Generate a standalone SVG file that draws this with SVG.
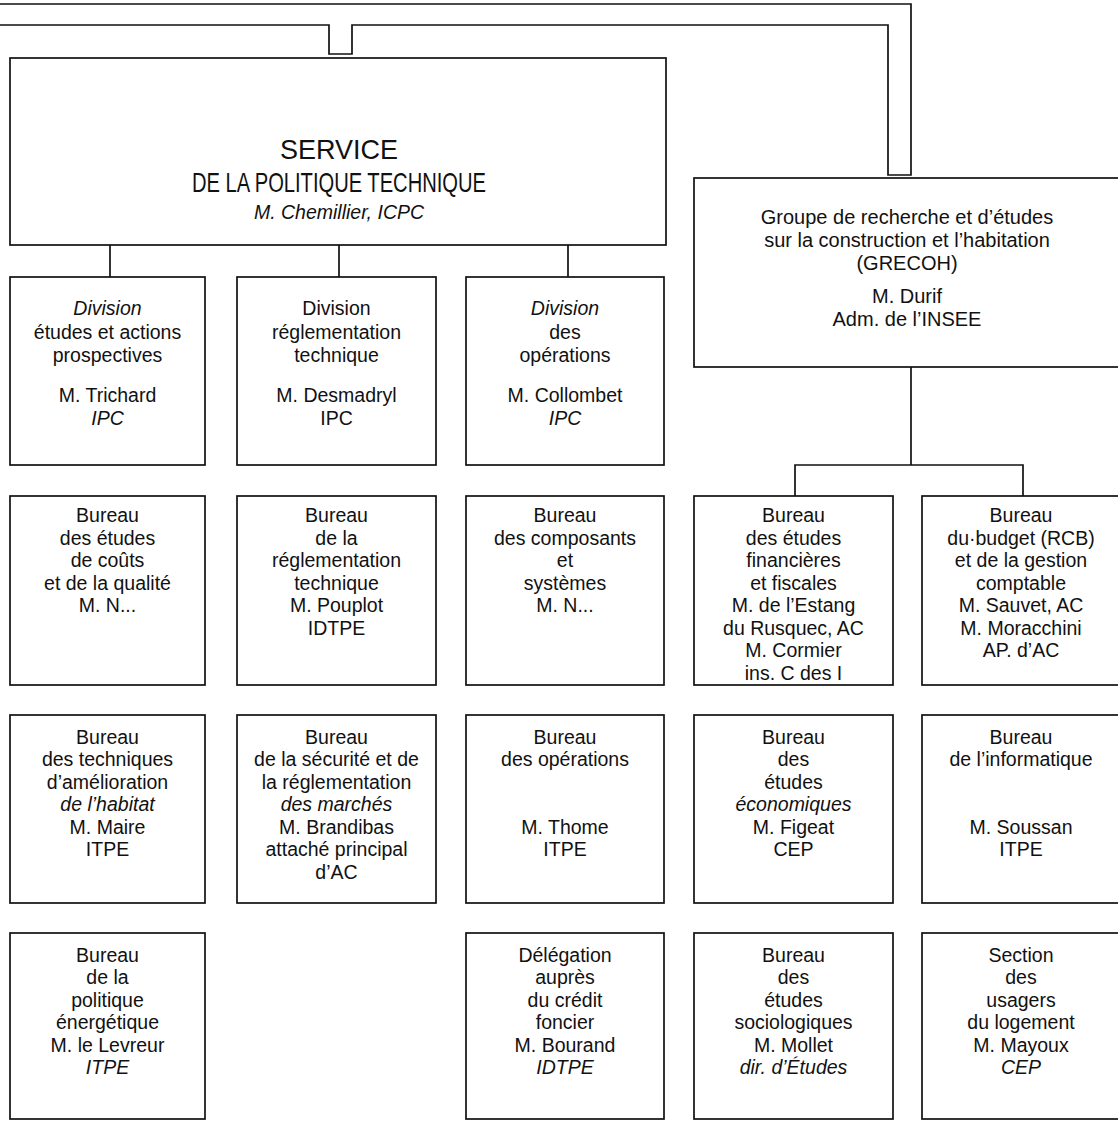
<svg xmlns="http://www.w3.org/2000/svg" width="1118" height="1122" viewBox="0 0 1118 1122">
<style>
.box{fill:#fff;stroke:#111;stroke-width:1.7}
.ln{fill:none;stroke:#111;stroke-width:1.7}
text{font-family:"Liberation Sans",Arial,sans-serif;font-size:19.5px;fill:#111;text-anchor:middle}
.it{font-style:italic}
.title{font-size:28px}
.gr{font-size:20px}
</style>
<rect width="1118" height="1122" fill="#fff"/>
<g id="connectors">
<path class="ln" d="M-5 4 H911 V175 H888 V25 H352 V54 H329 V25 H-5"/>
<path class="ln" d="M110 245 V277 M339 245 V277 M568 245 V277"/>
<path class="ln" d="M911 367 V465 M795 496 V465 H1023 V496"/>
</g>
<g id="service">
<rect class="box" x="10" y="58" width="656" height="187"/>
<text class="title" x="339" y="159" textLength="118" lengthAdjust="spacingAndGlyphs">SERVICE</text>
<text class="title" x="339" y="192" textLength="294" lengthAdjust="spacingAndGlyphs">DE LA POLITIQUE TECHNIQUE</text>
<text class="it" x="339" y="219">M. Chemillier, ICPC</text>
</g>
<g id="grecoh">
<rect class="box" x="694" y="178" width="440" height="189"/>
<text class="gr" x="907" y="224">Groupe de recherche et d’études</text>
<text class="gr" x="907" y="247">sur la construction et l’habitation</text>
<text class="gr" x="907" y="270">(GRECOH)</text>
<text class="gr" x="907" y="303">M. Durif</text>
<text class="gr" x="907" y="326">Adm. de l’INSEE</text>
</g>
<g id="div-etudes">
<rect class="box" x="10" y="277" width="195" height="188"/>
<text class="it" x="107.5" y="315">Division</text>
<text x="107.5" y="339">études et actions</text>
<text x="107.5" y="362">prospectives</text>
<text x="107.5" y="402">M. Trichard</text>
<text class="it" x="107.5" y="425">IPC</text>
</g>
<g id="div-reglementation">
<rect class="box" x="237" y="277" width="199" height="188"/>
<text x="336.5" y="315">Division</text>
<text x="336.5" y="339">réglementation</text>
<text x="336.5" y="362">technique</text>
<text x="336.5" y="402">M. Desmadryl</text>
<text x="336.5" y="425">IPC</text>
</g>
<g id="div-operations">
<rect class="box" x="466" y="277" width="198" height="188"/>
<text class="it" x="565" y="315">Division</text>
<text x="565" y="339">des</text>
<text x="565" y="362">opérations</text>
<text x="565" y="402">M. Collombet</text>
<text class="it" x="565" y="425">IPC</text>
</g>
<g id="b-couts">
<rect class="box" x="10" y="496" width="195" height="189"/>
<text x="107.5" y="522">Bureau</text>
<text x="107.5" y="545">des études</text>
<text x="107.5" y="567">de coûts</text>
<text x="107.5" y="590">et de la qualité</text>
<text x="107.5" y="612">M. N...</text>
</g>
<g id="b-reglementation">
<rect class="box" x="237" y="496" width="199" height="189"/>
<text x="336.5" y="522">Bureau</text>
<text x="336.5" y="545">de la</text>
<text x="336.5" y="567">réglementation</text>
<text x="336.5" y="590">technique</text>
<text x="336.5" y="612">M. Pouplot</text>
<text x="336.5" y="635">IDTPE</text>
</g>
<g id="b-composants">
<rect class="box" x="466" y="496" width="198" height="189"/>
<text x="565" y="522">Bureau</text>
<text x="565" y="545">des composants</text>
<text x="565" y="567">et</text>
<text x="565" y="590">systèmes</text>
<text x="565" y="612">M. N...</text>
</g>
<g id="b-financieres">
<rect class="box" x="694" y="496" width="199" height="189"/>
<text x="793.5" y="522">Bureau</text>
<text x="793.5" y="545">des études</text>
<text x="793.5" y="567">financières</text>
<text x="793.5" y="590">et fiscales</text>
<text x="793.5" y="612">M. de l’Estang</text>
<text x="793.5" y="635">du Rusquec, AC</text>
<text x="793.5" y="657">M. Cormier</text>
<text x="793.5" y="680">ins. C des I</text>
</g>
<g id="b-budget">
<rect class="box" x="922" y="496" width="210" height="189"/>
<text x="1021" y="522">Bureau</text>
<text x="1021" y="545">du·budget (RCB)</text>
<text x="1021" y="567">et de la gestion</text>
<text x="1021" y="590">comptable</text>
<text x="1021" y="612">M. Sauvet, AC</text>
<text x="1021" y="635">M. Moracchini</text>
<text x="1021" y="657">AP. d’AC</text>
</g>
<g id="b-amelioration">
<rect class="box" x="10" y="715" width="195" height="188"/>
<text x="107.5" y="744">Bureau</text>
<text x="107.5" y="766">des techniques</text>
<text x="107.5" y="789">d’amélioration</text>
<text class="it" x="107.5" y="811">de l’habitat</text>
<text x="107.5" y="834">M. Maire</text>
<text x="107.5" y="856">ITPE</text>
</g>
<g id="b-securite">
<rect class="box" x="237" y="715" width="199" height="188"/>
<text x="336.5" y="744">Bureau</text>
<text x="336.5" y="766">de la sécurité et de</text>
<text x="336.5" y="789">la réglementation</text>
<text class="it" x="336.5" y="811">des marchés</text>
<text x="336.5" y="834">M. Brandibas</text>
<text x="336.5" y="856">attaché principal</text>
<text x="336.5" y="879">d’AC</text>
</g>
<g id="b-operations">
<rect class="box" x="466" y="715" width="198" height="188"/>
<text x="565" y="744">Bureau</text>
<text x="565" y="766">des opérations</text>
<text x="565" y="834">M. Thome</text>
<text x="565" y="856">ITPE</text>
</g>
<g id="b-economiques">
<rect class="box" x="694" y="715" width="199" height="188"/>
<text x="793.5" y="744">Bureau</text>
<text x="793.5" y="766">des</text>
<text x="793.5" y="789">études</text>
<text class="it" x="793.5" y="811">économiques</text>
<text x="793.5" y="834">M. Figeat</text>
<text x="793.5" y="856">CEP</text>
</g>
<g id="b-informatique">
<rect class="box" x="922" y="715" width="210" height="188"/>
<text x="1021" y="744">Bureau</text>
<text x="1021" y="766">de l’informatique</text>
<text x="1021" y="834">M. Soussan</text>
<text x="1021" y="856">ITPE</text>
</g>
<g id="b-energetique">
<rect class="box" x="10" y="933" width="195" height="186"/>
<text x="107.5" y="962">Bureau</text>
<text x="107.5" y="984">de la</text>
<text x="107.5" y="1007">politique</text>
<text x="107.5" y="1029">énergétique</text>
<text x="107.5" y="1052">M. le Levreur</text>
<text class="it" x="107.5" y="1074">ITPE</text>
</g>
<g id="delegation">
<rect class="box" x="466" y="933" width="198" height="186"/>
<text x="565" y="962">Délégation</text>
<text x="565" y="984">auprès</text>
<text x="565" y="1007">du crédit</text>
<text x="565" y="1029">foncier</text>
<text x="565" y="1052">M. Bourand</text>
<text class="it" x="565" y="1074">IDTPE</text>
</g>
<g id="b-sociologiques">
<rect class="box" x="694" y="933" width="199" height="186"/>
<text x="793.5" y="962">Bureau</text>
<text x="793.5" y="984">des</text>
<text x="793.5" y="1007">études</text>
<text x="793.5" y="1029">sociologiques</text>
<text x="793.5" y="1052">M. Mollet</text>
<text class="it" x="793.5" y="1074">dir. d’Études</text>
</g>
<g id="s-usagers">
<rect class="box" x="922" y="933" width="210" height="186"/>
<text x="1021" y="962">Section</text>
<text x="1021" y="984">des</text>
<text x="1021" y="1007">usagers</text>
<text x="1021" y="1029">du logement</text>
<text x="1021" y="1052">M. Mayoux</text>
<text class="it" x="1021" y="1074">CEP</text>
</g>
</svg>
